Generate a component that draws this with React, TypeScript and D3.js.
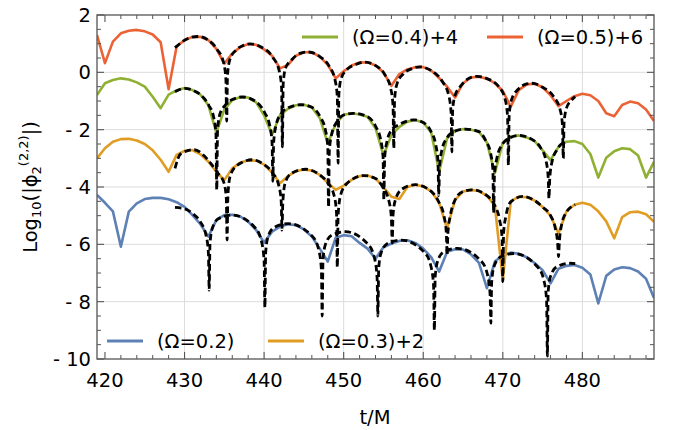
import React from "react";
import * as d3 from "d3";

// ---------- data ----------
const sampleTimes: number[] = d3.range(419, 490, 1);

const omega02: number[] = [
  -4.28, -4.55, -4.85, -6.08, -4.86, -4.57, -4.42, -4.38, -4.38, -4.43,
  -4.53, -4.69, -4.98, -5.30, -5.73, -5.15, -4.98, -4.97, -5.03, -5.21,
  -5.50, -5.94, -5.56, -5.38, -5.30, -5.33, -5.48, -5.73, -6.15, -6.60,
  -5.77, -5.68, -5.72, -5.95, -6.15, -6.50, -6.10, -5.97, -5.88, -5.86,
  -5.95, -6.15, -6.45, -6.95, -6.26, -6.17, -6.18, -6.35, -6.65, -7.53,
  -6.60, -6.38, -6.29, -6.33, -6.45, -6.65, -6.90, -7.36, -6.85, -6.75,
  -6.72, -6.82, -7.05, -8.06, -7.10, -6.88, -6.80, -6.83, -6.95, -7.20, -7.87,
];
const omega03: number[] = [
  -3.00, -2.65, -2.42, -2.33, -2.32, -2.38, -2.50, -2.72, -3.05, -3.47,
  -2.88, -2.74, -2.71, -2.86, -3.12, -3.47, -3.76, -3.35, -3.15, -3.07,
  -3.08, -3.22, -3.50, -3.87, -3.62, -3.45, -3.39, -3.43, -3.58, -3.85,
  -4.10, -3.95, -3.75, -3.62, -3.60, -3.70, -4.00, -4.34, -4.42, -4.00,
  -3.92, -3.98, -4.15, -4.55, -5.45, -4.45, -4.16, -4.10, -4.14, -4.30,
  -4.65, -7.24, -4.50, -4.34, -4.36, -4.47, -4.70, -5.00, -5.62, -4.85,
  -4.62, -4.55, -4.62, -4.85, -5.20, -5.79, -5.05, -4.88, -4.86, -4.95, -5.21,
];
const omega04: number[] = [
  -0.79, -0.38, -0.27, -0.21, -0.25, -0.35, -0.50, -0.85, -1.25, -0.78,
  -0.63, -0.55, -0.62, -0.78, -1.15, -2.10, -1.30, -0.97, -0.86, -0.88,
  -1.05, -1.50, -2.18, -1.50, -1.27, -1.15, -1.13, -1.22, -1.60, -2.48,
  -1.80, -1.48, -1.43, -1.47, -1.55, -1.95, -2.90, -2.19, -1.90, -1.72,
  -1.66, -1.75, -2.10, -3.47, -2.30, -2.05, -1.98, -2.00, -2.07, -2.45,
  -3.52, -2.45, -2.25, -2.20, -2.27, -2.40, -2.72, -3.06, -2.60, -2.42,
  -2.40, -2.50, -2.85, -3.67, -2.98, -2.75, -2.65, -2.68, -2.90, -3.67, -3.12,
];
const omega05: number[] = [
  1.30, 0.32, 1.07, 1.36, 1.45, 1.48, 1.43, 1.32, 1.05, -0.59,
  0.89, 1.13, 1.23, 1.24, 1.12, 0.82, 0.30, 0.66, 0.88, 0.99,
  0.96, 0.80, 0.58, 0.14, 0.26, 0.58, 0.70, 0.70, 0.55, 0.26,
  -0.21, 0.04, 0.24, 0.34, 0.35, 0.24, 0.00, -0.47, -0.06, 0.10,
  0.18, 0.18, 0.06, -0.20, -0.50, -0.88, -0.38, -0.18, -0.15, -0.22,
  -0.38, -0.65, -1.20, -0.62, -0.42, -0.40, -0.52, -0.80, -1.18, -1.00,
  -0.83, -0.75, -0.80, -1.00, -1.43, -1.53, -1.14, -1.02, -1.08, -1.30, -1.70,
];

// fitted (dashed) curves: [t, value]
const fit02: [number, number][] = [
  [428.8,-4.71],[430.0,-4.76],[431.0,-4.92],[431.9,-5.18],[432.7,-5.68],[433.0,-6.3],[433.1,-7.6],
  [433.2,-5.98],[433.5,-5.43],[434.3,-5.10],[436.0,-4.98],[438.9,-5.43],[439.7,-5.93],[440.0,-6.58],[440.1,-8.2],
  [440.2,-6.28],[440.5,-5.73],[441.3,-5.40],[443.05,-5.28],[446.1,-5.73],[446.9,-6.23],[447.2,-6.88],[447.3,-8.5],
  [447.4,-6.56],[447.7,-6.01],[448.5,-5.68],[450.2,-5.56],[453.1,-6.01],[453.9,-6.51],[454.2,-7.16],[454.3,-8.5],
  [454.4,-6.85],[454.7,-6.30],[455.5,-5.97],[457.2,-5.85],[460.2,-6.30],[461.0,-6.80],[461.3,-7.45],[461.4,-9.0],
  [461.5,-7.14],[461.8,-6.59],[462.6,-6.26],[464.3,-6.14],[467.3,-6.59],[468.1,-7.09],[468.4,-7.74],[468.5,-8.75],
  [468.6,-7.32],[468.9,-6.77],[469.7,-6.44],[471.4,-6.32],[474.4,-6.80],[475.2,-7.30],[475.5,-7.95],[475.6,-9.9],
  [475.7,-7.66],[476.0,-7.11],[476.8,-6.78],[478.5,-6.66],[479.1,-6.67],
];
const fit03: [number, number][] = [
  [428.8,-3.35],[429.5,-2.85],[431.2,-2.70],[432.5,-2.92],[433.3,-3.18],[434.15,-3.50],[434.95,-3.85],[435.25,-4.4],[435.35,-5.85],
  [435.45,-4.3],[435.75,-3.6],[436.6,-3.25],[438.5,-3.05],[440.0,-3.22],[441.05,-3.50],[441.85,-3.95],[442.15,-4.5],[442.25,-5.5],
  [442.35,-4.55],[442.65,-3.85],[443.45,-3.52],[445.2,-3.38],[447.0,-3.58],[448.0,-3.85],[448.8,-4.3],[449.1,-4.9],[449.2,-6.8],
  [449.3,-5.0],[449.6,-4.3],[450.4,-3.88],[452.5,-3.60],[454.0,-3.70],[454.9,-4.0],[455.7,-4.5],[456.0,-5.1],[456.1,-5.96],
  [456.2,-5.0],[456.5,-4.45],[457.3,-4.08],[459.0,-3.92],[461.0,-4.15],[462.0,-4.55],[462.6,-5.0],[462.9,-5.6],[463.0,-6.37],
  [463.1,-5.6],[463.4,-5.0],[464.0,-4.45],[465.0,-4.16],[466.2,-4.10],[468.0,-4.30],[469.0,-4.65],[469.6,-5.15],[469.9,-5.75],[470.0,-7.3],
  [470.1,-5.6],[470.4,-5.0],[471.0,-4.52],[472.5,-4.33],[474.0,-4.47],[475.0,-4.70],[476.0,-5.0],[476.6,-5.45],[476.9,-6.0],[477.0,-6.43],
  [477.1,-5.95],[477.4,-5.3],[478.0,-4.88],[479.1,-4.62],
];
const fit04: [number, number][] = [
  [428.8,-0.68],[430.0,-0.56],[431.0,-0.62],[432.0,-0.78],[433.05,-1.15],[433.65,-1.55],[433.95,-2.15],[434.05,-4.1],
  [434.15,-2.05],[434.45,-1.45],[435.1,-1.15],[436.0,-0.95],[437.3,-0.86],[439.0,-1.03],[440.1,-1.42],[440.7,-1.85],[441.0,-2.45],[441.1,-3.8],
  [441.2,-2.45],[441.5,-1.85],[442.1,-1.45],[443.0,-1.24],[444.6,-1.13],[446.0,-1.22],[447.1,-1.58],[447.7,-2.0],[448.0,-2.6],[448.1,-4.7],
  [448.2,-2.75],[448.5,-2.15],[449.1,-1.75],[450.0,-1.49],[451.2,-1.43],[453.0,-1.55],[454.05,-1.9],[454.65,-2.35],[454.95,-2.95],[455.05,-4.45],
  [455.15,-3.0],[455.45,-2.4],[456.05,-2.0],[457.0,-1.82],[458.8,-1.66],[460.0,-1.75],[460.95,-2.05],[461.55,-2.5],[461.85,-3.1],[461.95,-4.3],
  [462.05,-3.3],[462.35,-2.7],[462.95,-2.3],[464.0,-2.05],[465.3,-1.98],[467.0,-2.07],[467.85,-2.38],[468.45,-2.8],[468.75,-3.4],[468.85,-4.9],
  [468.95,-3.6],[469.25,-3.0],[469.85,-2.55],[471.0,-2.27],[472.0,-2.2],[474.0,-2.40],[474.8,-2.65],[475.4,-3.05],[475.7,-3.65],[475.8,-4.4],
  [475.9,-3.7],[476.2,-3.1],[476.8,-2.7],[477.8,-2.42],
];
const fit05: [number, number][] = [
  [428.8,0.86],[429.5,1.02],[430.5,1.19],[431.7,1.25],[433.0,1.12],[434.1,0.80],[434.9,0.35],[435.2,-0.25],[435.3,-1.7],
  [435.4,-0.1],[435.7,0.45],[436.5,0.78],[437.3,0.93],[438.3,0.99],[439.5,0.90],[441.1,0.52],[441.9,0.05],[442.2,-0.55],[442.3,-2.6],
  [442.4,-0.4],[442.7,0.15],[443.5,0.45],[444.5,0.66],[445.5,0.71],[447.0,0.55],[448.1,0.25],[448.9,-0.25],[449.2,-0.85],[449.3,-3.17],
  [449.4,-0.75],[449.7,-0.2],[450.5,0.12],[451.5,0.27],[452.6,0.36],[454.0,0.24],[455.1,-0.05],[455.9,-0.55],[456.2,-1.15],[456.3,-2.65],
  [456.4,-0.95],[456.7,-0.4],[457.5,-0.05],[458.5,0.12],[459.6,0.19],[461.0,0.06],[462.4,-0.32],[463.2,-0.8],[463.5,-1.4],[463.6,-2.77],
  [463.7,-1.3],[464.0,-0.8],[464.8,-0.45],[465.8,-0.2],[466.8,-0.14],[468.0,-0.22],[469.5,-0.5],[470.3,-0.95],[470.6,-1.55],[470.7,-3.23],
  [470.8,-1.5],[471.1,-0.95],[471.9,-0.6],[472.8,-0.42],[473.7,-0.38],[475.0,-0.52],[476.4,-0.85],[477.2,-1.3],[477.5,-1.85],[477.6,-3.0],
  [477.7,-1.75],[478.0,-1.25],[478.6,-0.98],[479.1,-0.85],
];

const seriesLabels = ["(Ω=0.2)", "(Ω=0.3)+2", "(Ω=0.4)+4", "(Ω=0.5)+6"];
const seriesColors = ["#5E81B5", "#E19C24", "#8FB032", "#EB6235"];

const xMajorTicks = [420, 430, 440, 450, 460, 470, 480];
const yMajorTicks = [-10, -8, -6, -4, -2, 0, 2];
const xGridLines = [430, 440, 450, 460, 470, 480];
const yGridLines = [-8, -6, -4, -2, 0];

// ---------- layout ----------
const W = 673, H = 430;
const L = 97, R = 654, T = 15, B = 359;
const FONT = "'DejaVu Sans', sans-serif";
const FS = 19.5;

export default function App() {
  const x = d3.scaleLinear().domain([419, 489]).range([L, R]);
  const y = d3.scaleLinear().domain([-10, 2]).range([B, T]);

  const xMinor = d3.range(420, 489, 2).filter((v) => !xMajorTicks.includes(v));
  const yMinor = d3.range(-10, 2.01, 0.5).filter((v) => !yMajorTicks.includes(v));

  const lineData = d3.line<number>().x((_, i) => x(sampleTimes[i])).y((d) => y(d));
  const fitLine = d3.line<[number, number]>().x((d) => x(d[0])).y((d) => y(d[1])).curve(d3.curveMonotoneX);

  const colored = [omega02, omega03, omega04, omega05];
  const fits = [fit02, fit03, fit04, fit05];

  const frame = "#555";
  const fmt = (v: number) => (v < 0 ? `- ${Math.abs(v)}` : `${v}`);

  const legendItems = [
    { i: 0, lx: 107, ty: 341 },
    { i: 1, lx: 268, ty: 341 },
    { i: 2, lx: 302, ty: 37 },
    { i: 3, lx: 487, ty: 37 },
  ];

  return (
    <svg width={W} height={H} style={{ position: "fixed", left: 0, top: 0, background: "#fff" }} fontFamily={FONT}>
      <defs>
        <clipPath id="plotclip">
          <rect x={L} y={T} width={R - L} height={B - T} />
        </clipPath>
      </defs>
      {xGridLines.map((v) => (
        <line key={"gx" + v} x1={x(v)} x2={x(v)} y1={T} y2={B} stroke="#dcdcdc" strokeWidth={1} />
      ))}
      {yGridLines.map((v) => (
        <line key={"gy" + v} x1={L} x2={R} y1={y(v)} y2={y(v)} stroke="#dcdcdc" strokeWidth={1} />
      ))}

      <g clipPath="url(#plotclip)">
        {colored.map((s, i) => (
          <path key={"c" + i} d={lineData(s) || ""} fill="none" stroke={seriesColors[i]} strokeWidth={2.6} strokeLinejoin="round" />
        ))}
        {fits.map((f, i) => (
          <path key={"f" + i} d={fitLine(f) || ""} fill="none" stroke="#000" strokeWidth={2.8} strokeDasharray="6.5,3.5" />
        ))}
      </g>

      <rect x={L} y={T} width={R - L} height={B - T} fill="none" stroke={frame} strokeWidth={1.3} />
      {xMajorTicks.map((v) => (
        <g key={"xt" + v}>
          <line x1={x(v)} x2={x(v)} y1={B} y2={B - 7} stroke={frame} strokeWidth={1.1} />
          <line x1={x(v)} x2={x(v)} y1={T} y2={T + 7} stroke={frame} strokeWidth={1.1} />
          <text x={x(v)} y={387} textAnchor="middle" fontSize={FS} fill="#000">{v}</text>
        </g>
      ))}
      {xMinor.map((v) => (
        <g key={"xm" + v}>
          <line x1={x(v)} x2={x(v)} y1={B} y2={B - 4} stroke={frame} strokeWidth={1} />
          <line x1={x(v)} x2={x(v)} y1={T} y2={T + 4} stroke={frame} strokeWidth={1} />
        </g>
      ))}
      {yMajorTicks.map((v) => (
        <g key={"yt" + v}>
          <line x1={L} x2={L + 7} y1={y(v)} y2={y(v)} stroke={frame} strokeWidth={1.1} />
          <line x1={R} x2={R - 7} y1={y(v)} y2={y(v)} stroke={frame} strokeWidth={1.1} />
          <text x={91} y={y(v) + 7} textAnchor="end" fontSize={FS} fill="#000">{fmt(v)}</text>
        </g>
      ))}
      {yMinor.map((v) => (
        <g key={"ym" + v}>
          <line x1={L} x2={L + 4} y1={y(v)} y2={y(v)} stroke={frame} strokeWidth={1} />
          <line x1={R} x2={R - 4} y1={y(v)} y2={y(v)} stroke={frame} strokeWidth={1} />
        </g>
      ))}

      <text x={375} y={424} textAnchor="middle" fontSize={FS} fill="#000">t/M</text>
      <text transform={`translate(37,${(T + B) / 2}) rotate(-90)`} textAnchor="middle" fontSize={FS} fill="#000">
        <tspan>Log</tspan>
        <tspan fontSize={13} dy={4}>10</tspan>
        <tspan dy={-4}>(|ϕ</tspan>
        <tspan fontSize={13} dy={4}>2</tspan>
        <tspan fontSize={13} dy={-13}>(2,2)</tspan>
        <tspan dy={9}>|)</tspan>
      </text>

      {legendItems.map(({ i, lx, ty }) => (
        <g key={"lg" + i}>
          <line x1={lx} x2={lx + 36} y1={ty} y2={ty} stroke={seriesColors[i]} strokeWidth={2.8} />
          <text x={lx + 50} y={ty + 7} fontSize={FS} fill="#000">{seriesLabels[i]}</text>
        </g>
      ))}
    </svg>
  );
}
